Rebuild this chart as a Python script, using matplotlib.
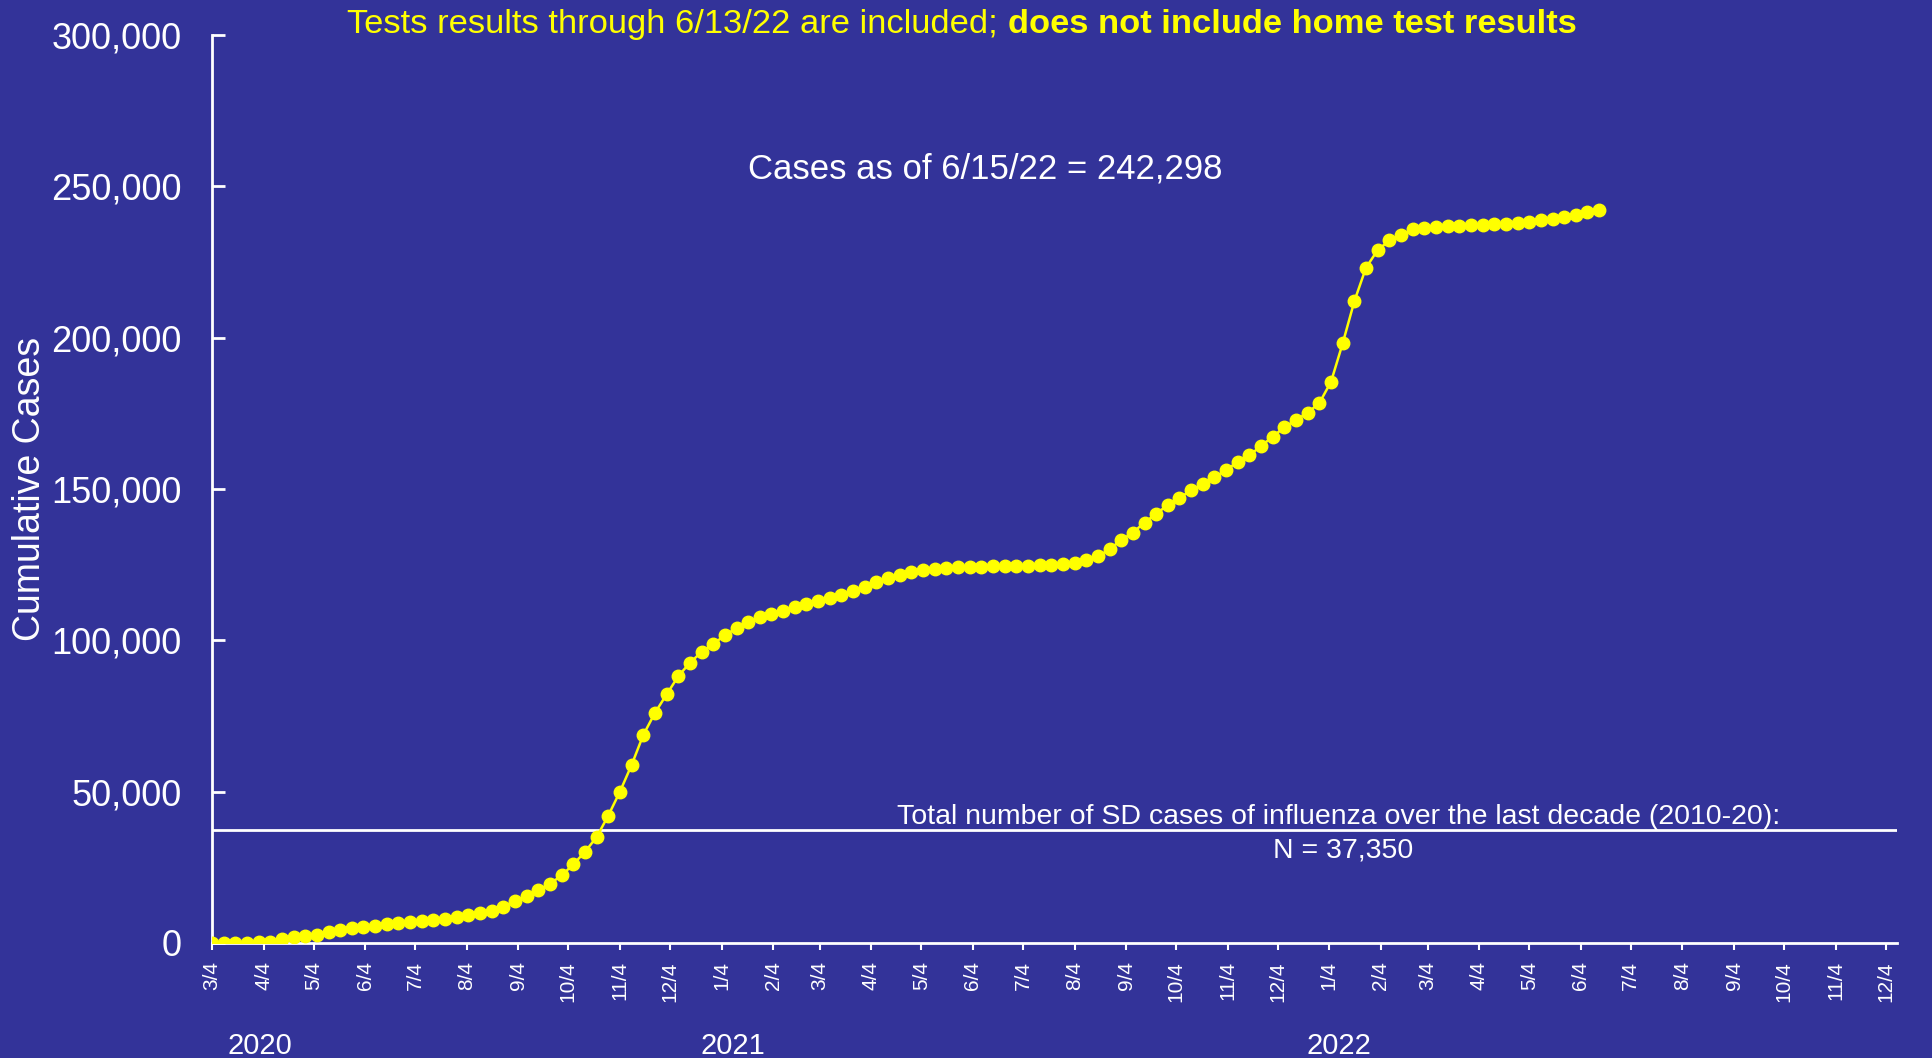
import datetime as dt
import matplotlib
matplotlib.use('Agg')
import matplotlib.pyplot as plt
from matplotlib.ticker import FuncFormatter

BG = '#333399'
YELLOW = '#ffff00'
plt.rcParams['font.family'] = ['Liberation Sans', 'DejaVu Sans']

# weekly cumulative cases, starting 3/4/2020
start = dt.date(2020, 3, 4)
cases = [0, 0, 0, 100, 200, 440, 1200, 1900, 2300, 2750,
         3700, 4300, 4800, 5300, 5700, 6200, 6500, 6800, 7200, 7600,
         8000, 8600, 9100, 9800, 10600, 11900, 14000, 15400, 17400, 19600,
         22300, 26000, 30100, 35000, 42100, 50000, 58800, 68700, 76000, 82100,
         88100, 92600, 96100, 98800, 101600, 104100, 106200, 107600, 108800, 109800,
         110900, 112000, 113000, 114000, 115100, 116400, 117700, 119100, 120500, 121600,
         122600, 123200, 123600, 123900, 124100, 124200, 124200, 124400, 124500, 124500,
         124700, 124800, 124900, 125300, 125600, 126400, 127700, 130100, 133100, 135600,
         138900, 141800, 144700, 147100, 149500, 151600, 153900, 156200, 159000, 161100,
         164200, 167300, 170400, 172800, 175200, 178400, 185400, 198100, 212000, 223100,
         228900, 232100, 233800, 235800, 236200, 236500, 236800, 237000, 237200, 237300,
         237400, 237600, 237900, 238200, 238700, 239100, 239700, 240400, 241400, 242298]
weeks = [start + dt.timedelta(days=7 * i) for i in range(len(cases))]

flu_total = 37350
tick_dates = [dt.date(2020 + (m // 12), m % 12 + 1, 4) for m in range(2, 36)]
years = ['2020', '2021', '2022']
year_pos = [dt.date(2020, 4, 2), dt.date(2021, 1, 11), dt.date(2022, 1, 10)]

fig = plt.figure(figsize=(19.32, 10.58), dpi=100, facecolor=BG)
ax = fig.add_axes([0.1097, 0.1087, 0.8723, 0.8583], facecolor=BG)

ax.plot(weeks, cases, color=YELLOW, lw=1.8, marker='o', ms=9,
        markerfacecolor=YELLOW, markeredgecolor=YELLOW, zorder=3)
ax.axhline(flu_total, color='white', lw=2, zorder=2)

ax.set_xlim(dt.date(2020, 3, 4), dt.date(2022, 12, 11))
ax.set_ylim(0, 300000)
ax.set_yticks(range(0, 300001, 50000))
ax.yaxis.set_major_formatter(FuncFormatter(lambda v, p: f'{int(v):,}'))
ax.set_xticks(tick_dates)
ax.set_xticklabels([f'{d.month}/{d.day}' for d in tick_dates], rotation=90,
                   va='top', ha='center')

for s in ['top', 'right']:
    ax.spines[s].set_visible(False)
for s in ['left', 'bottom']:
    ax.spines[s].set_color('white')
    ax.spines[s].set_linewidth(2)
ax.tick_params(axis='y', direction='in', length=9, width=2, colors='white',
               labelsize=26, pad=22)
ax.tick_params(axis='x', direction='out', length=5, width=1.5, colors='white',
               labelsize=15, pad=8)

ax.set_ylabel('Cumulative Cases', color='white', fontsize=27)
ax.yaxis.set_label_coords(-0.097, 0.5)

for y, p in zip(years, year_pos):
    ax.text(p, -0.113, y, transform=ax.get_xaxis_transform(), color='white',
            fontsize=21, ha='center', va='center')

# title: regular part, then bold part right after it
t1 = fig.text(0.1797, 0.977, 'Tests results through 6/13/22 are included;',
              color=YELLOW, fontsize=24.8, ha='left', va='center')
ax.annotate('does not include home test results', xy=(1, 0), xycoords=t1,
            xytext=(7, 0), textcoords='offset points', color=YELLOW,
            fontsize=24.8, fontweight='bold', ha='left', va='bottom',
            annotation_clip=False)
fig.text(0.510, 0.840, 'Cases as of 6/15/22 = 242,298', color='white',
         fontsize=25, ha='center', va='center')
fig.text(0.693, 0.228,
         'Total number of SD cases of influenza over the last decade (2010-20):',
         color='white', fontsize=20.5, ha='center', va='center')
fig.text(0.695, 0.196, 'N = 37,350', color='white', fontsize=20.5,
         ha='center', va='center')

fig.savefig('out.png', dpi=100, facecolor=BG)
